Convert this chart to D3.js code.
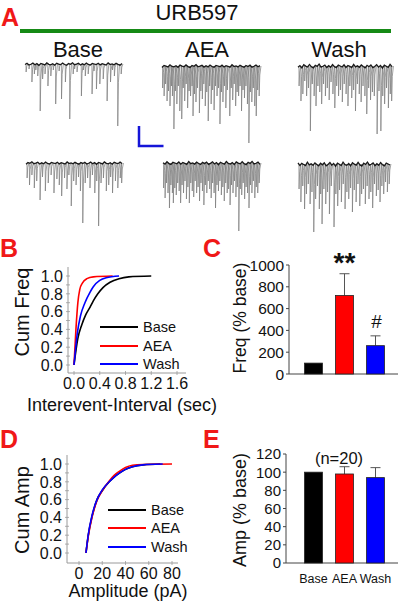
<!DOCTYPE html>
<html><head><meta charset="utf-8">
<script src="https://cdn.jsdelivr.net/npm/d3@7"></script>
<style>
html,body{margin:0;padding:0;background:#fff;}
svg{display:block;}
text{font-family:"Liberation Sans",Arial,Helvetica,sans-serif;}
</style></head>
<body>
<div id="chart"></div>
<script>
// ---------------- DATA ----------------
const conditions = ["Base", "AEA", "Wash"];
const drugLabel = "URB597";
const condColors = ["#000000", "#ff0000", "#0000ff"];

// Panel A: mEPSC events [time s, amplitude pA]
const traceBase1 = [[0.1,8],[0.4,5],[0.7,18],[0.95,10],[1.1,6],[1.3,12],[1.55,47],[1.8,15],[2.05,10],[2.35,22],[2.65,12],[2.9,6],[3.15,40],[3.5,7],[3.75,35],[4.15,18],[4.6,55],[4.95,10],[5.1,5],[5.35,8],[5.8,32],[6.0,6],[6.2,12],[6.5,10],[6.9,30],[7.1,7],[7.35,25],[7.7,20],[8.05,15],[8.45,37],[8.8,18],[9.0,6],[9.2,12],[9.55,62],[9.9,10]];
const traceAEA1 = [[0.05,22],[0.2,30],[0.35,18],[0.5,35],[0.65,25],[0.8,40],[0.95,20],[1.05,30],[1.2,63],[1.35,25],[1.5,38],[1.65,20],[1.8,45],[2.0,53],[2.15,22],[2.3,35],[2.45,18],[2.6,42],[2.75,25],[2.9,30],[3.05,20],[3.15,50],[3.3,28],[3.45,36],[3.6,22],[3.8,47],[3.95,25],[4.1,33],[4.25,18],[4.4,40],[4.55,26],[4.7,55],[4.85,20],[5.0,38],[5.15,24],[5.3,44],[5.45,20],[5.6,30],[5.75,22],[5.9,58],[6.05,26],[6.2,36],[6.35,20],[6.5,42],[6.65,24],[6.9,50],[7.05,22],[7.2,34],[7.35,18],[7.5,40],[7.65,26],[7.8,30],[7.95,20],[8.1,45],[8.25,24],[8.4,32],[8.55,20],[8.7,38],[8.85,77],[9.0,26],[9.15,36],[9.3,22],[9.45,40],[9.6,50],[9.75,24],[9.9,30]];
const traceWash1 = [[0.1,20],[0.3,35],[0.5,28],[0.7,15],[0.9,30],[1.1,22],[1.3,65],[1.5,18],[1.7,30],[1.9,40],[2.1,20],[2.3,26],[2.5,38],[2.7,18],[2.9,30],[3.1,22],[3.3,34],[3.5,16],[3.7,28],[3.9,42],[4.1,20],[4.3,30],[4.5,24],[4.7,36],[4.9,18],[5.1,28],[5.3,40],[5.5,20],[5.7,32],[5.9,24],[6.1,45],[6.3,18],[6.5,28],[6.7,36],[6.9,20],[7.1,30],[7.3,48],[7.5,22],[7.7,34],[7.9,26],[8.1,30],[8.4,68],[8.6,25],[8.8,65],[9.0,30],[9.2,38],[9.4,22],[9.6,42],[9.8,28],[9.95,35]];
const traceBase2 = [[0.1,15],[0.35,22],[0.6,12],[0.85,25],[1.1,18],[1.45,37],[1.7,14],[2.0,28],[2.3,20],[2.6,12],[2.9,30],[3.2,16],[3.45,22],[3.7,33],[4.0,15],[4.25,26],[4.45,12],[4.7,43],[4.95,18],[5.2,22],[5.45,14],[5.65,28],[5.9,60],[6.15,20],[6.4,15],[6.65,25],[6.9,12],[7.15,30],[7.35,18],[7.55,63],[7.8,20],[8.05,15],[8.35,28],[8.6,22],[8.8,14],[9.0,30],[9.3,18],[9.55,25],[9.8,15],[9.95,20]];
const traceAEA2 = [[0.05,25],[0.2,35],[0.35,20],[0.5,30],[0.65,45],[0.8,22],[0.95,30],[1.05,40],[1.2,25],[1.35,32],[1.5,20],[1.65,28],[1.8,40],[1.95,22],[2.1,30],[2.25,18],[2.4,36],[2.55,24],[2.7,40],[2.85,20],[3.0,28],[3.15,34],[3.3,18],[3.45,30],[3.6,24],[3.75,38],[3.9,20],[4.05,28],[4.2,42],[4.35,22],[4.5,30],[4.65,18],[4.8,26],[4.95,35],[5.1,20],[5.25,30],[5.4,45],[5.55,22],[5.7,28],[5.85,18],[6.0,32],[6.15,24],[6.3,38],[6.45,20],[6.6,30],[6.75,26],[6.9,42],[7.05,22],[7.2,30],[7.35,18],[7.5,34],[7.65,24],[7.8,68],[7.95,26],[8.1,32],[8.25,20],[8.4,36],[8.55,24],[8.7,30],[8.85,45],[9.0,22],[9.15,30],[9.3,18],[9.45,35],[9.6,24],[9.75,30],[9.9,20]];
const traceWash2 = [[0.1,25],[0.3,38],[0.5,22],[0.7,45],[0.9,30],[1.1,20],[1.3,40],[1.5,28],[1.7,68],[1.9,35],[2.1,22],[2.3,45],[2.45,30],[2.6,60],[2.8,25],[3.0,40],[3.2,28],[3.4,50],[3.6,22],[3.9,63],[4.1,30],[4.3,42],[4.5,26],[4.7,38],[4.9,20],[5.1,45],[5.3,28],[5.5,35],[5.7,24],[5.9,48],[6.1,26],[6.3,38],[6.5,20],[6.7,42],[6.9,30],[7.1,25],[7.3,40],[7.5,22],[7.7,35],[7.9,28],[8.1,44],[8.3,20],[8.5,32],[8.7,26],[8.9,38],[9.1,22],[9.3,30],[9.5,18],[9.7,28],[9.9,20]];
// baseline noise (pA), hand-read wiggle of the holding current
const baselineNoise = [0.5,-0.8,1.2,0.3,-1.0,0.8,-0.4,1.5,-0.6,0.2,1.0,-1.2,0.4,0.9,-0.3,1.3,-0.9,0.1,0.7,-1.1,0.6,1.4,-0.5,0.3,-1.3,0.8,0.2,-0.7,1.1,-0.2,0.9,-1.0,0.5,1.2,-0.6,0.0,0.7,-0.8,1.0,-0.4,0.3,1.1,-1.2,0.6,-0.1,0.9,-0.7,0.4,1.3,-0.5];
const scaleBarPA = 20, scaleBarSec = 2.5;

// Panel B: cumulative interevent-interval [sec, cum]
const iiBase = [[0,0],[0.06,0.3],[0.12,0.45],[0.18,0.56],[0.25,0.65],[0.3,0.72],[0.37,0.8],[0.45,0.87],[0.56,0.93],[0.7,0.97],[0.85,0.99],[1.2,1.0]];
const iiAEA  = [[0,0],[0.03,0.4],[0.06,0.7],[0.09,0.85],[0.13,0.92],[0.2,0.97],[0.3,0.99],[0.6,1.0]];
const iiWash = [[0,0],[0.05,0.35],[0.1,0.55],[0.17,0.7],[0.25,0.82],[0.3,0.88],[0.4,0.95],[0.5,0.98],[0.7,1.0]];
const bXTicks = [0, 0.4, 0.8, 1.2, 1.6];
const cumTicks = [0, 0.2, 0.4, 0.6, 0.8, 1.0];

// Panel C: frequency (% base)
const freqMean = [100, 720, 260];
const freqSEM  = [0, 200, 90];
const freqTicks = [0, 200, 400, 600, 800, 1000];
const freqMarks = ["", "**", "#"];

// Panel D: cumulative amplitude [pA, cum]
const ampBase = [[6,0],[8,0.2],[11,0.4],[13,0.5],[15.5,0.6],[20,0.7],[26,0.8],[30,0.85],[35,0.9],[40,0.94],[46,0.97],[55,0.99],[70,1.0]];
const ampAEA  = [[6,0],[8,0.19],[11,0.39],[13,0.49],[15.5,0.59],[20,0.7],[26,0.81],[30,0.87],[35,0.92],[40,0.96],[46,0.985],[55,0.995],[80,1.0]];
const ampWash = [[6,0],[8,0.21],[11,0.41],[13,0.51],[15.5,0.6],[20,0.71],[26,0.8],[30,0.85],[35,0.9],[40,0.94],[46,0.97],[55,0.99],[72,1.0]];
const dXTicks = [0, 20, 40, 60, 80];

// Panel E: amplitude (% base)
const ampMean = [100, 98, 94];
const ampSEM  = [0, 8, 11];
const ampTicks = [0, 20, 40, 60, 80, 100, 120];
const nLabel = "(n=20)";

// ---------------- DRAW ----------------
const W = 400, H = 603;
const svg = d3.select("#chart").append("svg").attr("width", W).attr("height", H);
svg.append("rect").attr("width", W).attr("height", H).attr("fill", "#fff");
const RED = "#f01818";

function letter(t, x, y) {
  svg.append("text").attr("x", x).attr("y", y).text(t)
    .attr("font-size", 25).attr("font-weight", "bold").attr("fill", RED);
}

// ----- Panel A -----
letter("A", 1, 26);
svg.append("text").attr("x", 197).attr("y", 20).attr("text-anchor", "middle")
  .attr("font-size", 22).attr("fill", "#111").text(drugLabel);
svg.append("line").attr("x1", 20).attr("x2", 391).attr("y1", 31).attr("y2", 31)
  .attr("stroke", "#168a16").attr("stroke-width", 4);
const condX = [78, 207, 339];
conditions.forEach((c, i) => {
  svg.append("text").attr("x", condX[i]).attr("y", 57).attr("text-anchor", "middle")
    .attr("font-size", 22).attr("fill", "#111").text(c);
});

const traces = [
  { ev: traceBase1, x0: 25, x1: 122, y0: 64, noiseAmp: 0.9, off: 0 },
  { ev: traceAEA1, x0: 162, x1: 260, y0: 66, noiseAmp: 1.0, off: 7 },
  { ev: traceWash1, x0: 298, x1: 392, y0: 66, noiseAmp: 1.4, off: 13 },
  { ev: traceBase2, x0: 26, x1: 122, y0: 163, noiseAmp: 0.9, off: 21 },
  { ev: traceAEA2, x0: 163, x1: 260, y0: 163, noiseAmp: 1.2, off: 29 },
  { ev: traceWash2, x0: 298, x1: 390, y0: 164, noiseAmp: 1.5, off: 37 }
];
traces.forEach(tr => {
  const tx = d3.scaleLinear().domain([0, 10]).range([tr.x0, tr.x1]);
  const ty = d3.scaleLinear().domain([0, 80]).range([tr.y0, tr.y0 + 80]);
  const g = svg.append("g");
  g.selectAll("path.sp").data(tr.ev).enter().append("path")
    .attr("d", d => {
      const [t, a] = d;
      return `M${tx(t)},${ty(0)}L${tx(t + 0.015)},${ty(a)}L${tx(t + 0.08)},${ty(a * 0.3)}L${tx(t + 0.2)},${ty(0)}`;
    })
    .attr("fill", "none").attr("stroke", "#7a7a7a").attr("stroke-width", 0.7);
  const n = baselineNoise.length;
  const pts = d3.range(n).map(i => [i * 10 / (n - 1), baselineNoise[(i + tr.off) % n] * tr.noiseAmp]);
  g.append("path").attr("d", d3.line().x(d => tx(d[0])).y(d => ty(d[1]))(pts))
    .attr("fill", "none").attr("stroke", "#1a1a1a").attr("stroke-width", 1.3);
});
// scale bar
{
  const sx = d3.scaleLinear().domain([0, 10]).range([162, 260]);
  const bx = 139, by = 146;
  const hLen = sx(scaleBarSec) - sx(0), vLen = scaleBarPA;
  svg.append("path").attr("d", `M${bx},${by - vLen}L${bx},${by}L${bx + hLen},${by}`)
    .attr("fill", "none").attr("stroke", "#1515d8").attr("stroke-width", 2.5);
}

// ----- helper for cumulative panels -----
function cumPanel(opt) {
  const x = d3.scaleLinear().domain(opt.xDom).range(opt.xRange);
  const y = d3.scaleLinear().domain([0, 1]).range(opt.yRange);
  const axc = "#9a9a9a";
  svg.append("line").attr("x1", opt.ax).attr("x2", opt.ax).attr("y1", opt.axTop).attr("y2", opt.ay)
    .attr("stroke", axc).attr("stroke-width", 1);
  svg.append("line").attr("x1", opt.ax).attr("x2", opt.axRight).attr("y1", opt.ay).attr("y2", opt.ay)
    .attr("stroke", axc).attr("stroke-width", 1);
  const yMinor = d3.range(0, 1.0001, 0.1);
  svg.selectAll(null).data(yMinor).enter().append("line")
    .attr("x1", opt.ax - 2).attr("x2", opt.ax + 2).attr("y1", d => y(d)).attr("y2", d => y(d))
    .attr("stroke", axc).attr("stroke-width", 0.8);
  svg.selectAll(null).data(cumTicks).enter().append("text")
    .attr("x", opt.ax - 5).attr("y", d => y(d)).attr("dy", "0.36em")
    .attr("text-anchor", "end").attr("font-size", 16).attr("fill", "#111")
    .text(d => d3.format(".1f")(d));
  svg.selectAll(null).data(opt.xTicks).enter().append("line")
    .attr("x1", d => x(d)).attr("x2", d => x(d)).attr("y1", opt.ay - 2).attr("y2", opt.ay + 2)
    .attr("stroke", axc).attr("stroke-width", 0.8);
  svg.selectAll(null).data(opt.xTicks).enter().append("text")
    .attr("x", d => x(d)).attr("y", opt.ay + 10.5).attr("dy", "0.36em")
    .attr("text-anchor", "middle").attr("font-size", 16).attr("fill", "#111")
    .text(opt.xFmt);
  svg.append("text").attr("x", opt.xlX).attr("y", opt.xlY).attr("text-anchor", "middle")
    .attr("font-size", 18).attr("fill", "#111").text(opt.xLabel);
  svg.append("text").attr("transform", `translate(${opt.ylX},${opt.ylY}) rotate(-90)`)
    .attr("text-anchor", "middle").attr("font-size", 20).attr("fill", "#111").text(opt.yLabel);
  const line = d3.line().x(d => x(d[0])).y(d => y(d[1])).curve(d3.curveMonotoneX);
  opt.series.forEach((s, i) => {
    svg.append("path").attr("d", line(s)).attr("fill", "none")
      .attr("stroke", condColors[i]).attr("stroke-width", 1.6);
  });
  conditions.forEach((c, i) => {
    const ly = opt.legY[i];
    svg.append("line").attr("x1", opt.legX0).attr("x2", opt.legX1).attr("y1", ly).attr("y2", ly)
      .attr("stroke", condColors[i]).attr("stroke-width", 2);
    svg.append("text").attr("x", opt.legX1 + 5).attr("y", ly).attr("dy", "0.36em")
      .attr("font-size", 14.5).attr("fill", "#111").text(c);
  });
}

letter("B", 0, 257);
cumPanel({
  xDom: [0, 1.6], xRange: [74, 177], yRange: [365, 276],
  ax: 68, ay: 373, axTop: 267, axRight: 186,
  xTicks: bXTicks, xFmt: d => d3.format(".1f")(d),
  xLabel: "Interevent-Interval (sec)", xlX: 122, xlY: 411,
  yLabel: "Cum Freq", ylX: 29, ylY: 312,
  series: [iiBase, iiAEA, iiWash],
  legX0: 100, legX1: 138, legY: [327, 346, 364]
});

letter("D", 0, 448);
cumPanel({
  xDom: [0, 80], xRange: [79, 172], yRange: [553, 464],
  ax: 67, ay: 563, axTop: 455, axRight: 178,
  xTicks: dXTicks, xFmt: d => d,
  xLabel: "Amplitude (pA)", xlX: 128, xlY: 597,
  yLabel: "Cum Amp", ylX: 29, ylY: 510,
  series: [ampBase, ampAEA, ampWash],
  legX0: 108, legX1: 146, legY: [510, 528, 547]
});

// ----- bar panels -----
function barPanel(opt) {
  const x = d3.scaleBand().domain(conditions).range([298, 391]).paddingInner(0.42).paddingOuter(0.21);
  const y = d3.scaleLinear().domain(opt.yDom).range(opt.yRange);
  const axc = "#444";
  svg.append("line").attr("x1", opt.ax).attr("x2", opt.ax).attr("y1", y(opt.yDom[1])).attr("y2", y(0))
    .attr("stroke", axc).attr("stroke-width", 1);
  svg.append("line").attr("x1", opt.ax).attr("x2", 398).attr("y1", y(0)).attr("y2", y(0))
    .attr("stroke", axc).attr("stroke-width", 1);
  svg.selectAll(null).data(opt.ticks).enter().append("line")
    .attr("x1", opt.ax - 3).attr("x2", opt.ax).attr("y1", d => y(d)).attr("y2", d => y(d))
    .attr("stroke", axc).attr("stroke-width", 1);
  svg.selectAll(null).data(opt.ticks).enter().append("text")
    .attr("x", opt.ax - 5).attr("y", d => y(d)).attr("dy", "0.36em")
    .attr("text-anchor", "end").attr("font-size", opt.tickFs).attr("fill", "#111").text(d => d);
  svg.append("text").attr("transform", `translate(${opt.ylX},${opt.ylY}) rotate(-90)`)
    .attr("text-anchor", "middle").attr("font-size", opt.ylFs).attr("fill", "#111").text(opt.yLabel);
  conditions.forEach((c, i) => {
    if (opt.sem[i] > 0) {
      const cx = x(c) + x.bandwidth() / 2;
      const top = y(opt.mean[i] + opt.sem[i]);
      svg.append("line").attr("x1", cx).attr("x2", cx).attr("y1", y(opt.mean[i])).attr("y2", top)
        .attr("stroke", "#555").attr("stroke-width", 1);
      svg.append("line").attr("x1", cx - 5).attr("x2", cx + 5).attr("y1", top).attr("y2", top)
        .attr("stroke", "#555").attr("stroke-width", 1);
    }
  });
  svg.selectAll(null).data(conditions).enter().append("rect")
    .attr("x", d => x(d)).attr("width", x.bandwidth())
    .attr("y", (d, i) => y(opt.mean[i])).attr("height", (d, i) => y(0) - y(opt.mean[i]))
    .attr("fill", (d, i) => condColors[i]).attr("stroke", "#222").attr("stroke-width", 0.8);
  return { x, y };
}

letter("C", 203, 257);
const cS = barPanel({
  yDom: [0, 1000], yRange: [374, 265], ax: 289, ticks: freqTicks, tickFs: 15.5,
  mean: freqMean, sem: freqSEM, yLabel: "Freq (% base)", ylX: 246, ylY: 318, ylFs: 17.5
});
conditions.forEach((c, i) => {
  if (!freqMarks[i]) return;
  const cx = cS.x(c) + cS.x.bandwidth() / 2;
  const top = cS.y(freqMean[i] + freqSEM[i]);
  svg.append("text").attr("x", cx + (i === 2 ? 1 : 0)).attr("y", top - (i === 1 ? 2 : 8))
    .attr("text-anchor", "middle").attr("fill", "#111")
    .attr("font-size", i === 1 ? 28 : 19).attr("font-weight", i === 1 ? "bold" : "normal")
    .text(freqMarks[i]);
});

letter("E", 203, 448);
const eS = barPanel({
  yDom: [0, 120], yRange: [563, 454], ax: 286, ticks: ampTicks, tickFs: 15,
  mean: ampMean, sem: ampSEM, yLabel: "Amp (% base)", ylX: 246, ylY: 510, ylFs: 18
});
conditions.forEach(c => {
  svg.append("text").attr("x", eS.x(c) + eS.x.bandwidth() / 2).attr("y", 578).attr("dy", "0.36em")
    .attr("text-anchor", "middle").attr("font-size", 12.5).attr("fill", "#111").text(c);
});
svg.append("text").attr("x", 339).attr("y", 458).attr("dy", "0.36em").attr("text-anchor", "middle")
  .attr("font-size", 16.5).attr("fill", "#111").text(nLabel);
</script>
</body></html>
